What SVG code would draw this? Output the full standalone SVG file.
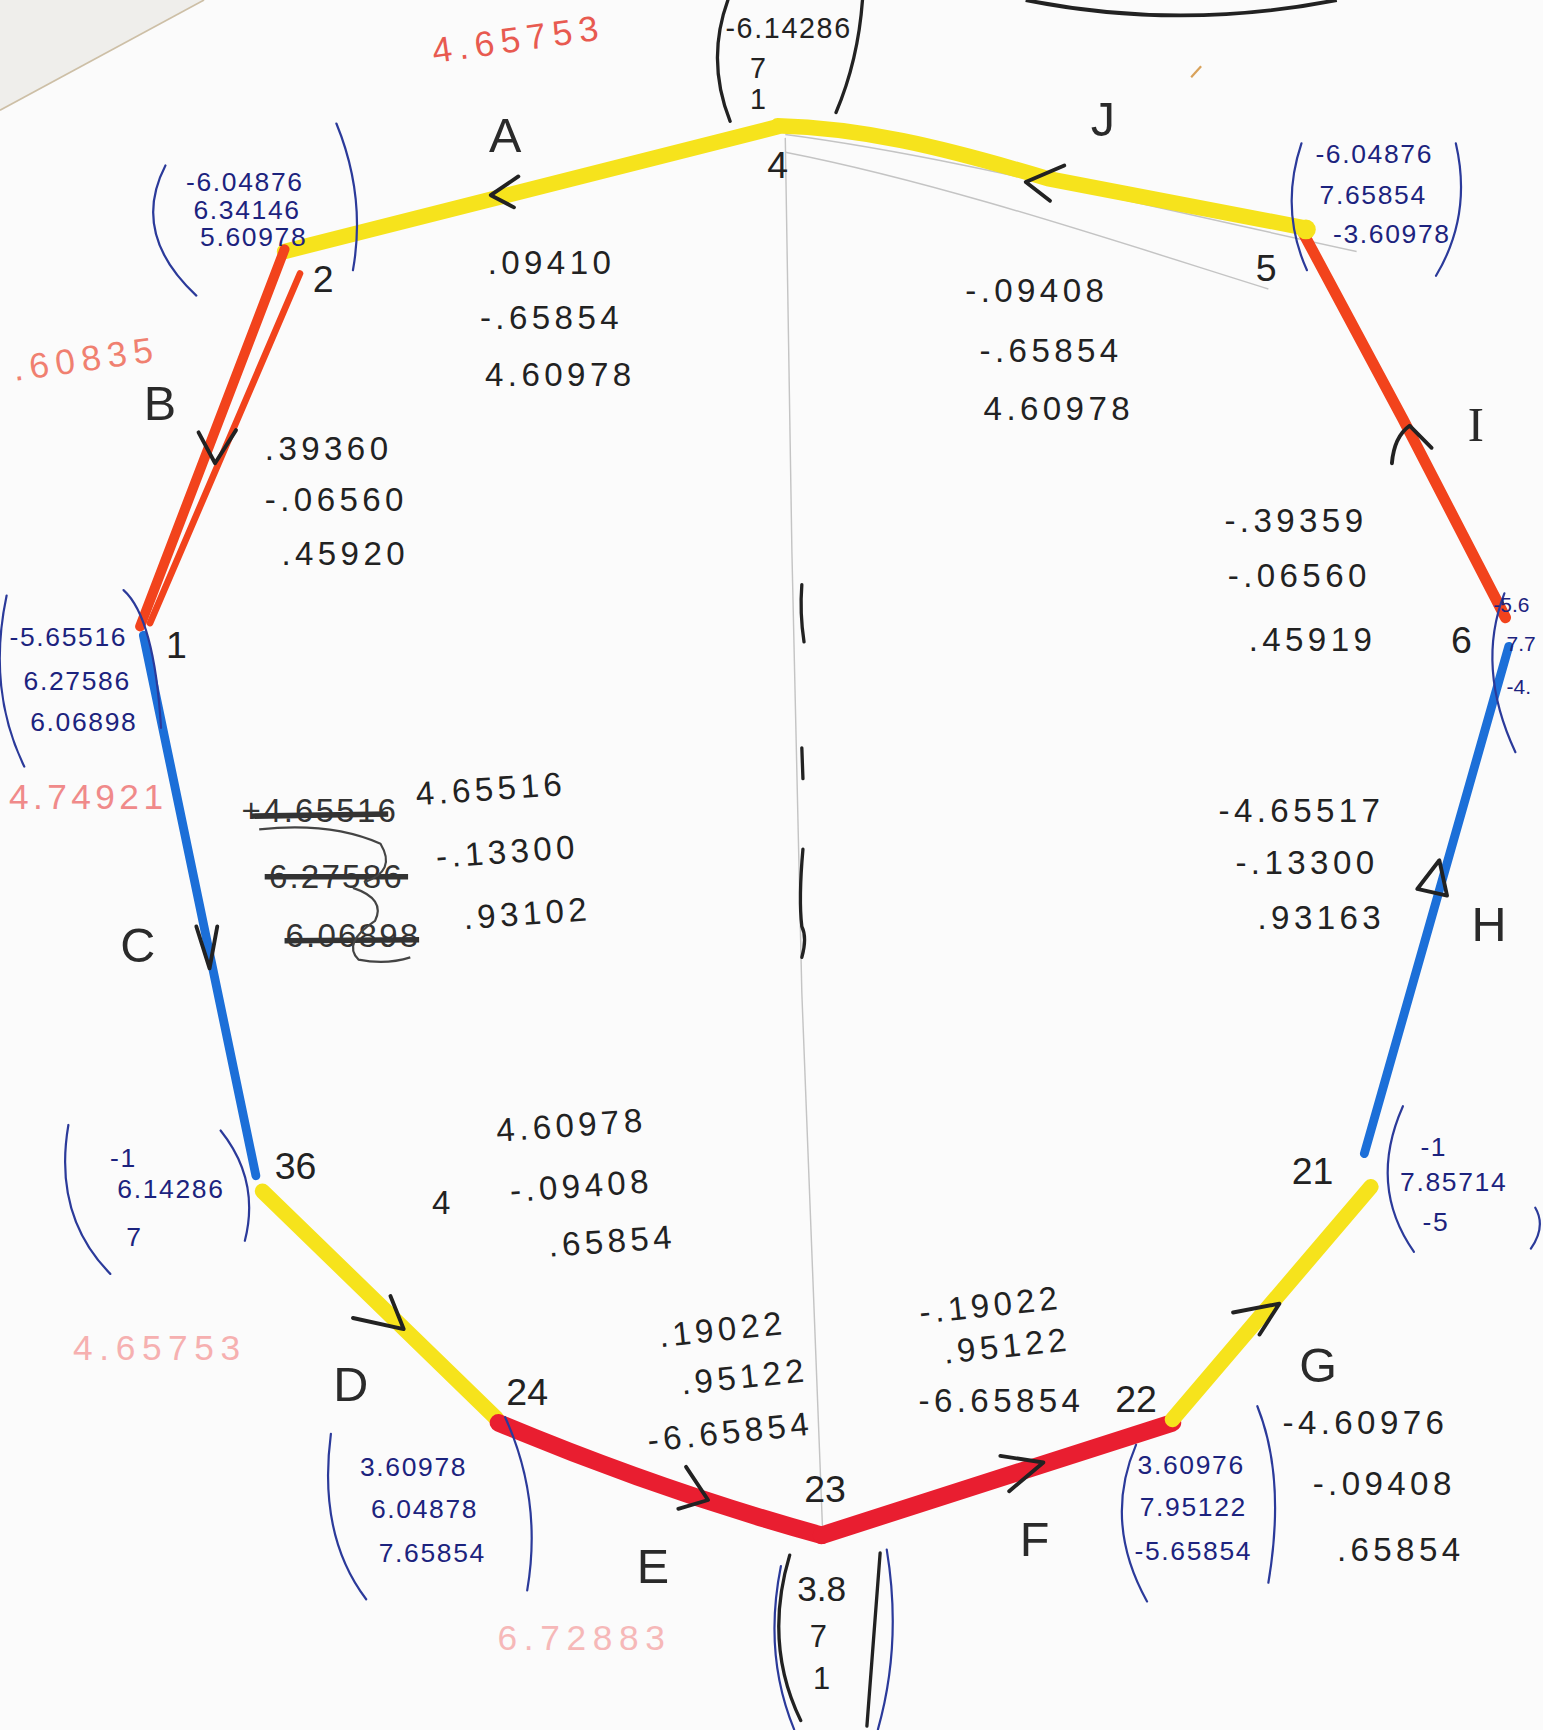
<svg xmlns="http://www.w3.org/2000/svg" width="1543" height="1730" viewBox="0 0 1543 1730">
<style>
text{font-family:"Liberation Sans",Arial,sans-serif;dominant-baseline:central;text-anchor:middle}
.num{font-size:30px;fill:#222;letter-spacing:4px}
.crossed{font-size:30px;fill:#333;letter-spacing:2px}
.coord{font-size:24px;fill:#1c237e;letter-spacing:1.5px}
.edge6{font-size:19px;fill:#1c237e;text-anchor:start}
.lbl{font-size:44px;fill:#2a2a2a}
.vtx{font-size:34px;fill:#222}
.ghost{font-size:32px;letter-spacing:6px}
.bp{fill:none;stroke:#2b3a9a;stroke-width:2;stroke-linecap:round}
.kp{fill:none;stroke:#222;stroke-width:3;stroke-linecap:round}
.yel{fill:none;stroke:#f6e31c;stroke-width:14;stroke-linecap:round;stroke-linejoin:round}
.org{fill:none;stroke:#f2431c;stroke-linecap:round;stroke-linejoin:round}
.red{fill:none;stroke:#e91e30;stroke-width:16;stroke-linecap:round;stroke-linejoin:round}
.blu{fill:none;stroke:#1c6fd8;stroke-width:8;stroke-linecap:round}
.arr{fill:none;stroke:#222;stroke-width:3.5;stroke-linecap:round;stroke-linejoin:round}
.pencil{fill:none;stroke:#c4c4c4;stroke-width:1.3}
</style>
<rect width="1543" height="1730" fill="#fbfbfb"/>
<g transform="scale(1.10293)">
  <!-- paper edge and background marks -->
  <polygon points="0,0 185,0 0,100" fill="#efeeeb"/>
  <line x1="0" y1="100" x2="185" y2="0" stroke="#cdbfa6" stroke-width="1.5"/>
  <path d="M930,0 Q1070,28 1212,0" fill="none" stroke="#222" stroke-width="3.5"/>
  <line x1="1080" y1="70" x2="1089" y2="60" stroke="#d9a25a" stroke-width="2"/>
  <path class="pencil" d="M712,125 L718,500 L727,900 L746,1392"/>
  <path class="pencil" d="M712,122 C850,140 1000,178 1230,228"/>
  <path class="pencil" d="M712,138 C850,165 1000,215 1150,262"/>
  <path class="kp" d="M727,530 Q725,556 729,582"/>
  <path class="kp" d="M727,678 L728,706"/>
  <path class="kp" d="M728,770 Q724,815 727,840 Q732,850 727,868"/>

  <!-- connectors -->
  <g id="connectors">
    <path id="edge-A" class="yel" d="M705,115 L258,228"/>
    <path id="edge-J" class="yel" d="M705,114 C780,116 850,132 950,162 L1185,207"/>
    <g id="edge-B">
      <path class="org" stroke-width="9" d="M258,226 L127,568"/>
      <path class="org" stroke-width="6" d="M272,248 L136,565"/>
    </g>
    <path id="edge-I" class="org" stroke-width="10" d="M1182,212 L1272,380 L1365,560"/>
    <path id="edge-C" class="blu" d="M130,576 L232,1066"/>
    <path id="edge-H" class="blu" d="M1368,586 L1237,1046"/>
    <path id="edge-D" class="yel" d="M238,1080 L450,1286"/>
    <path id="edge-E" class="red" d="M452,1290 Q600,1352 745,1392"/>
    <path id="edge-F" class="red" d="M745,1392 L1063,1290"/>
    <path id="edge-G" class="yel" d="M1063,1287 L1243,1076"/>
    <circle cx="1184" cy="208" r="9" fill="#f6e31c"/>
    <!-- hand-drawn arrowheads -->
    <path class="arr" d="M470,160 L445,177 L466,188"/>
    <path class="arr" d="M965,150 L930,165 L952,182"/>
    <path class="arr" d="M180,392 L195,420 L214,390"/>
    <path class="arr" d="M1262,420 Q1264,396 1278,386 L1298,406"/>
    <path class="arr" d="M178,840 L190,878 L197,840"/>
    <path class="arr" d="M1285,806 L1312,812 L1305,780 Z"/>
    <path class="arr" d="M320,1195 L366,1205 L354,1175"/>
    <path class="arr" d="M622,1330 L642,1360 L615,1368"/>
    <path class="arr" d="M907,1320 L946,1326 L915,1352"/>
    <path class="arr" d="M1118,1190 L1160,1182 L1142,1210"/>
  </g>

  <!-- edge labels -->
  <g id="labels">
    <text class="lbl" x="458" y="122">A</text>
    <text class="lbl" x="1000" y="108">J</text>
    <text class="lbl" x="145" y="365">B</text>
    <text class="lbl" x="1338" y="385" style="font-family:'Liberation Serif',serif">I</text>
    <text class="lbl" x="125" y="857">C</text>
    <text class="lbl" x="1350" y="838">H</text>
    <text class="lbl" x="318" y="1255">D</text>
    <text class="lbl" x="592" y="1420">E</text>
    <text class="lbl" x="938" y="1395">F</text>
    <text class="lbl" x="1195" y="1238">G</text>
  </g>

  <!-- nodes -->
  <g id="node-4">
    <text class="vtx" x="705" y="150">4</text>
    <path class="kp" d="M660,0 Q640,55 662,110"/>
    <path class="kp" d="M782,0 Q778,55 758,102"/>
    <text class="coord" style="fill:#222;font-size:26px" x="715" y="25">-6.14286</text>
    <text class="coord" style="fill:#222;font-size:26px" x="688" y="62">7</text>
    <text class="coord" style="fill:#222;font-size:26px" x="688" y="90">1</text>
  </g>
  <g id="node-2">
    <text class="vtx" x="293" y="253">2</text>
    <path class="bp" d="M150,150 Q118,212 178,268"/>
    <path class="bp" d="M305,112 Q332,178 320,245"/>
    <text class="coord" x="222" y="165">-6.04876</text>
    <text class="coord" x="224" y="190">6.34146</text>
    <text class="coord" x="230" y="215">5.60978</text>
  </g>
  <g id="node-5">
    <text class="vtx" x="1148" y="243">5</text>
    <path class="bp" d="M1180,130 Q1160,190 1185,245"/>
    <path class="bp" d="M1320,130 Q1335,195 1302,250"/>
    <text class="coord" x="1246" y="140">-6.04876</text>
    <text class="coord" x="1245" y="177">7.65854</text>
    <text class="coord" x="1262" y="212">-3.60978</text>
  </g>
  <g id="node-1">
    <text class="vtx" x="160" y="585">1</text>
    <path class="bp" d="M6,540 Q-12,625 22,695"/>
    <path class="bp" d="M112,535 Q140,560 146,660"/>
    <text class="coord" x="62" y="578">-5.65516</text>
    <text class="coord" x="70" y="617">6.27586</text>
    <text class="coord" x="76" y="655">6.06898</text>
  </g>
  <g id="node-6">
    <text class="vtx" x="1325" y="580">6</text>
    <path class="bp" d="M1364,538 Q1338,605 1374,682"/>
    <text class="edge6" x="1354" y="548">-5.6</text>
    <text class="edge6" x="1366" y="583">7.7</text>
    <text class="edge6" x="1366" y="622">-4.</text>
  </g>
  <g id="node-36">
    <text class="vtx" x="268" y="1057">36</text>
    <path class="bp" d="M62,1020 Q48,1102 100,1155"/>
    <path class="bp" d="M200,1025 Q236,1070 222,1125"/>
    <text class="coord" x="112" y="1050">-1</text>
    <text class="coord" x="155" y="1078">6.14286</text>
    <text class="coord" x="122" y="1122">7</text>
  </g>
  <g id="node-21">
    <text class="vtx" x="1190" y="1062">21</text>
    <path class="bp" d="M1272,1003 Q1240,1075 1282,1135"/>
    <path class="bp" d="M1392,1095 Q1402,1112 1388,1132"/>
    <text class="coord" x="1300" y="1040">-1</text>
    <text class="coord" x="1318" y="1072">7.85714</text>
    <text class="coord" x="1302" y="1108">-5</text>
  </g>
  <g id="node-22">
    <text class="vtx" x="1030" y="1268">22</text>
    <path class="bp" d="M1030,1310 Q1000,1380 1040,1452"/>
    <path class="bp" d="M1140,1275 Q1166,1340 1150,1435"/>
    <text class="coord" x="1080" y="1328">3.60976</text>
    <text class="coord" x="1082" y="1366">7.95122</text>
    <text class="coord" x="1082" y="1406">-5.65854</text>
  </g>
  <g id="node-23">
    <text class="vtx" x="748" y="1350">23</text>
    <path class="bp" d="M708,1420 Q692,1500 720,1568"/>
    <path class="bp" d="M804,1405 Q818,1490 796,1568"/>
    <path class="kp" d="M716,1410 Q692,1490 726,1560"/>
    <path class="kp" d="M798,1408 L786,1565"/>
    <text style="font-size:32px;fill:#222" x="745" y="1440">3.8</text>
    <text style="font-size:28px;fill:#222" x="742" y="1484">7</text>
    <text style="font-size:28px;fill:#222" x="745" y="1522">1</text>
  </g>
  <g id="node-24">
    <text class="vtx" x="478" y="1262">24</text>
    <path class="bp" d="M300,1300 Q288,1392 332,1450"/>
    <path class="bp" d="M458,1285 Q492,1360 478,1442"/>
    <text class="coord" x="375" y="1330">3.60978</text>
    <text class="coord" x="385" y="1368">6.04878</text>
    <text class="coord" x="392" y="1408">7.65854</text>
  </g>

  <!-- edge vectors -->
  <g id="vectors">
    <text class="num" x="500" y="238">.09410</text>
    <text class="num" x="500" y="288">-.65854</text>
    <text class="num" x="508" y="340">4.60978</text>

    <text class="num" x="940" y="263">-.09408</text>
    <text class="num" x="953" y="318">-.65854</text>
    <text class="num" x="960" y="370">4.60978</text>

    <text class="num" x="298" y="407">.39360</text>
    <text class="num" x="305" y="453">-.06560</text>
    <text class="num" x="313" y="502">.45920</text>

    <text class="num" x="1175" y="472">-.39359</text>
    <text class="num" x="1178" y="522">-.06560</text>
    <text class="num" x="1190" y="580">.45919</text>

    <text class="num" x="445" y="715" transform="rotate(-4 445 715)">4.65516</text>
    <text class="num" x="460" y="772" transform="rotate(-4 460 772)">-.13300</text>
    <text class="num" x="478" y="828" transform="rotate(-4 478 828)">.93102</text>
    <text class="crossed" x="290" y="735">+4.65516</text>
    <text class="crossed" x="305" y="795">6.27586</text>
    <text class="crossed" x="320" y="848">6.06898</text>
    <path d="M228,740 L352,738 M240,795 L370,795 M258,853 L380,852" stroke="#333" stroke-width="5" fill="none"/>
    <path d="M235,752 Q300,745 345,765 Q360,790 330,800 M320,805 Q350,815 340,835 Q310,855 325,870 Q350,875 372,868" stroke="#444" stroke-width="2" fill="none"/>

    <text class="num" x="1180" y="735">-4.65517</text>
    <text class="num" x="1185" y="782">-.13300</text>
    <text class="num" x="1198" y="832">.93163</text>

    <text class="num" x="402" y="1090">4</text>
    <text class="num" x="518" y="1020" transform="rotate(-4 518 1020)">4.60978</text>
    <text class="num" x="527" y="1075" transform="rotate(-4 527 1075)">-.09408</text>
    <text class="num" x="555" y="1125" transform="rotate(-4 555 1125)">.65854</text>

    <text class="num" x="655" y="1205" transform="rotate(-6 655 1205)">.19022</text>
    <text class="num" x="675" y="1248" transform="rotate(-6 675 1248)">.95122</text>
    <text class="num" x="662" y="1298" transform="rotate(-6 662 1298)">-6.65854</text>

    <text class="num" x="898" y="1183" transform="rotate(-6 898 1183)">-.19022</text>
    <text class="num" x="913" y="1220" transform="rotate(-6 913 1220)">.95122</text>
    <text class="num" x="908" y="1270">-6.65854</text>

    <text class="num" x="1238" y="1290">-4.60976</text>
    <text class="num" x="1255" y="1345">-.09408</text>
    <text class="num" x="1270" y="1405">.65854</text>
  </g>

  <!-- faint red notes -->
  <g id="notes">
    <text class="ghost" x="470" y="35" fill="#e85a50" transform="rotate(-8 470 35)">4.65753</text>
    <text class="ghost" x="78" y="325" fill="#f08070" transform="rotate(-8 78 325)">.60835</text>
    <text class="ghost" x="80" y="722" fill="#f08a8a" style="letter-spacing:4px">4.74921</text>
    <text class="ghost" x="145" y="1222" fill="#f6b0b0">4.65753</text>
    <text class="ghost" x="530" y="1485" fill="#f6b8b8">6.72883</text>
  </g>
</g>
</svg>
